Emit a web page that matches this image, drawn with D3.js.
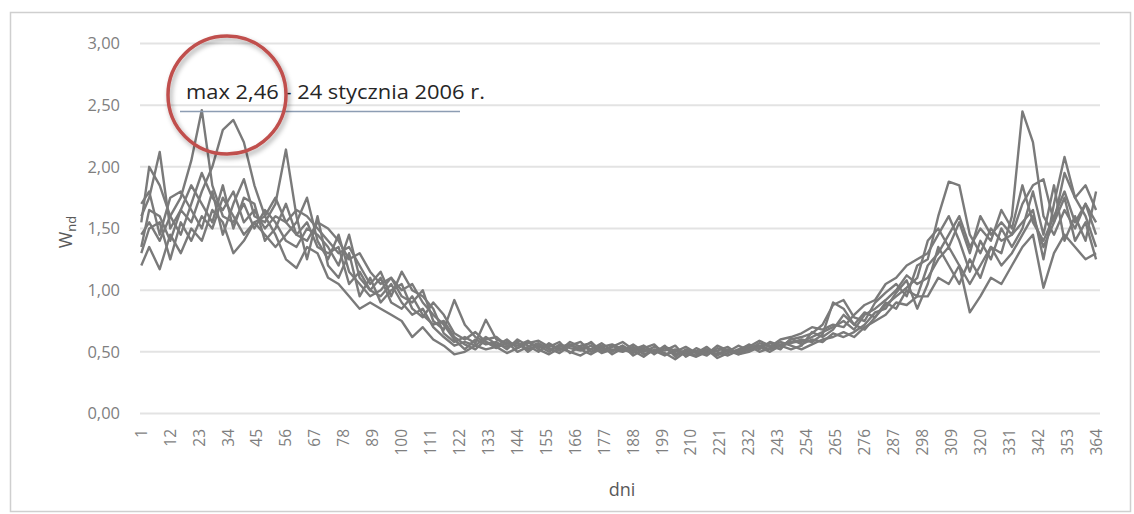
<!DOCTYPE html>
<html>
<head>
<meta charset="utf-8">
<script src="https://cdn.jsdelivr.net/npm/d3@7"></script>
<style>
  body { margin: 0; background: #fff; }
  svg { display: block; font-family: "Open Sans", sans-serif; }
</style>
</head>
<body>
<div id="chart"></div>
<script>
// chart size
const width = 1134;
const height = 514;

// days of the year used as sample points (1, 4, 8, ... 364)
const days = [1].concat(d3.range(4, 365, 4));

// axis labels
const yTicks = [0, 0.5, 1, 1.5, 2, 2.5, 3];
const xTickLabels = [1, 12, 23, 34, 45, 56, 67, 78, 89, 100, 111, 122, 133, 144, 155, 166, 177,
  188, 199, 210, 221, 232, 243, 254, 265, 276, 287, 298, 309, 320, 331, 342, 353, 364];

// W_nd values, one array per year
const s1 = [1.45,1.55,1.40,1.60,1.75,2.05,2.46,1.85,1.60,1.55,1.70,1.50,1.65,1.55,1.40,1.35,1.50,1.45,
  1.35,1.20,1.45,1.10,1.00,0.95,1.05,0.90,0.80,0.85,0.70,0.62,0.55,
  0.58,0.55,0.62,0.56,0.54,0.57,0.52,0.55,0.50,0.56,0.53,0.51,0.55,0.49,0.52,0.50,0.54,0.48,0.51,0.47,0.52,0.49,0.46,0.50,0.48,0.52,0.49,0.53,0.55,0.52,0.56,0.58,
  0.58,0.62,0.66,0.70,0.75,0.68,0.80,0.85,0.92,1.00,1.12,1.05,
  1.10,1.25,1.35,1.20,1.05,1.20,1.35,1.30,1.60,2.45,2.20,1.60,1.45,1.65,1.50,1.70,1.55];
const s2 = [1.60,1.75,2.12,1.50,1.65,1.55,1.80,2.00,2.30,2.38,2.20,1.85,1.60,1.75,1.55,1.45,1.40,1.55,
  1.50,1.40,1.25,1.30,1.15,1.05,1.10,1.00,1.05,0.90,0.80,0.72,0.60,
  0.52,0.60,0.56,0.58,0.52,0.60,0.55,0.50,0.57,0.52,0.55,0.58,0.50,0.54,0.56,0.52,0.49,0.55,0.50,0.53,0.48,0.51,0.50,0.47,0.53,0.50,0.55,0.51,0.54,0.57,0.54,0.60,
  0.62,0.65,0.72,0.88,0.92,0.78,0.75,0.90,0.98,1.05,0.95,1.20,
  1.25,1.60,1.88,1.85,1.45,1.30,1.50,1.40,1.45,1.55,1.65,1.25,1.70,2.08,1.75,1.60,1.35];
const s3 = [1.20,1.35,1.17,1.45,1.30,1.50,1.40,1.65,1.55,1.30,1.40,1.55,1.60,1.45,1.25,1.18,1.35,1.30,
  1.10,1.05,0.95,0.85,0.90,0.85,0.80,0.75,0.62,0.70,0.60,0.55,0.48,
  0.50,0.55,0.52,0.54,0.49,0.53,0.58,0.52,0.48,0.53,0.50,0.47,0.52,0.55,0.48,0.53,0.51,0.46,0.52,0.49,0.44,0.50,0.47,0.52,0.45,0.49,0.52,0.55,0.50,0.53,0.58,0.55,
  0.52,0.56,0.60,0.62,0.66,0.62,0.70,0.75,0.80,0.90,0.88,0.95,
  0.95,1.10,1.05,1.20,0.82,0.95,1.10,1.05,1.20,1.35,1.45,1.02,1.30,1.45,1.35,1.25,1.30];
const s4 = [1.55,2.00,1.85,1.60,1.45,1.70,1.95,1.75,1.65,1.80,1.55,1.65,1.50,1.60,1.55,1.65,1.60,1.50,
  1.40,1.30,1.35,1.20,1.05,1.15,0.95,1.15,1.00,0.95,0.85,0.65,0.58,
  0.62,0.57,0.76,0.60,0.57,0.55,0.59,0.53,0.56,0.51,0.58,0.54,0.52,0.57,0.51,0.55,0.50,0.53,0.56,0.48,0.50,0.54,0.49,0.52,0.50,0.47,0.51,0.56,0.52,0.58,0.55,0.57,
  0.60,0.58,0.64,0.90,0.85,0.72,0.82,0.78,0.88,0.95,1.02,1.10,
  1.40,1.50,1.35,1.55,1.30,1.60,1.45,1.55,1.45,1.70,1.85,1.90,1.55,1.95,1.75,1.85,1.65];
const s5 = [1.30,1.50,1.55,1.25,1.55,1.40,1.60,1.50,1.75,1.60,1.45,1.55,1.45,1.35,1.45,1.55,1.75,1.40,
  1.25,1.45,1.15,1.05,0.95,1.00,1.10,0.95,0.90,1.00,0.75,0.68,0.92,
  0.72,0.62,0.58,0.55,0.60,0.53,0.57,0.59,0.54,0.58,0.49,0.55,0.57,0.51,0.54,0.58,0.52,0.55,0.48,0.54,0.51,0.47,0.53,0.49,0.51,0.54,0.48,0.52,0.57,0.54,0.60,0.62,
  0.65,0.70,0.68,0.72,0.70,0.80,0.88,0.92,1.05,1.10,1.20,1.25,
  1.30,1.45,1.60,1.40,1.15,1.40,1.25,1.50,1.35,1.50,1.80,1.45,1.85,1.40,1.60,1.40,1.80];
const s6 = [1.70,1.80,1.45,1.75,1.80,1.65,1.50,1.80,1.45,1.70,1.90,1.60,1.55,1.70,2.14,1.60,1.25,1.60,
  1.20,1.10,1.30,0.95,1.10,0.90,1.00,1.05,0.85,0.78,0.90,0.80,0.65,
  0.60,0.66,0.58,0.53,0.58,0.50,0.54,0.57,0.52,0.54,0.56,0.52,0.58,0.50,0.55,0.51,0.56,0.50,0.54,0.51,0.55,0.46,0.51,0.48,0.55,0.51,0.50,0.54,0.59,0.55,0.52,0.61,
  0.56,0.60,0.58,0.65,0.62,0.66,0.72,0.82,0.85,0.98,1.08,0.85,
  1.05,1.35,1.20,1.05,1.25,1.10,1.35,1.20,1.30,1.45,1.60,1.35,1.55,1.75,1.40,1.55,1.25];
const s7 = [1.35,1.65,1.60,1.40,1.65,1.85,1.70,1.55,1.85,1.50,1.75,1.70,1.40,1.50,1.70,1.45,1.55,1.35,
  1.30,1.35,1.05,1.15,1.00,1.10,0.90,0.85,0.95,0.80,0.72,0.75,0.62,
  0.56,0.52,0.60,0.62,0.55,0.58,0.50,0.56,0.53,0.49,0.55,0.52,0.48,0.53,0.50,0.55,0.47,0.52,0.49,0.55,0.46,0.52,0.49,0.54,0.47,0.51,0.48,0.50,0.54,0.50,0.55,0.52,
  0.55,0.66,0.62,0.68,0.80,0.72,0.68,0.78,0.90,0.85,1.00,0.95,
  1.20,1.30,1.45,1.60,1.35,1.50,1.40,1.65,1.50,1.85,1.55,1.40,1.60,1.80,1.55,1.70,1.45];
const allSeries = [s1, s2, s3, s4, s5, s6, s7];

const svg = d3.select("#chart")
  .append("svg")
  .attr("width", width)
  .attr("height", height);

const defs = svg.append("defs");
defs.append("filter").attr("id", "shadow")
  .attr("x", "-20%").attr("y", "-20%").attr("width", "140%").attr("height", "140%")
  .append("feDropShadow")
  .attr("dx", 2).attr("dy", 3).attr("stdDeviation", 2.5)
  .attr("flood-color", "#000").attr("flood-opacity", 0.35);

// outer frame
svg.append("rect")
  .attr("x", 10.5).attr("y", 12.5)
  .attr("width", 1120).attr("height", 499)
  .attr("fill", "#fff")
  .attr("stroke", "#cfcfcf")
  .attr("stroke-width", 1.5);

// scales
const x = d3.scaleLinear().domain([1, 365]).range([141.3, 1098.7]);
const y = d3.scaleLinear().domain([0, 3]).range([413.5, 43.5]);

// gridlines
svg.append("g")
  .selectAll("line")
  .data(yTicks)
  .enter().append("line")
  .attr("x1", 140).attr("x2", 1100)
  .attr("y1", d => y(d)).attr("y2", d => y(d))
  .attr("stroke", "#e3e3e3")
  .attr("stroke-width", 2);

// y axis labels
svg.append("g")
  .selectAll("text")
  .data(yTicks)
  .enter().append("text")
  .attr("x", 120)
  .attr("y", d => y(d))
  .attr("dy", "0.35em")
  .attr("text-anchor", "end")
  .attr("font-size", 16.5)
  .attr("fill", "#7f7f7f")
  .text(d => d3.format(".2f")(d).replace(".", ","));

// x axis labels (rotated)
svg.append("g")
  .selectAll("text")
  .data(xTickLabels)
  .enter().append("text")
  .attr("transform", d => `translate(${x(d)},429) rotate(-90)`)
  .attr("dy", "0.35em")
  .attr("text-anchor", "end")
  .attr("font-size", 15.5)
  .attr("fill", "#7f7f7f")
  .text(d => d);

// axis titles
svg.append("text")
  .attr("x", 622).attr("y", 496)
  .attr("text-anchor", "middle")
  .attr("font-size", 18)
  .attr("fill", "#595959")
  .text("dni");

const yTitle = svg.append("text")
  .attr("transform", "translate(72,232) rotate(-90)")
  .attr("text-anchor", "middle")
  .attr("font-size", 18)
  .attr("fill", "#595959");
yTitle.append("tspan").text("W");
yTitle.append("tspan").attr("font-size", 13).attr("dy", 4).text("nd");

// series lines
const line = d3.line()
  .x((d, i) => x(days[i]))
  .y(d => y(d));

svg.append("g")
  .selectAll("path")
  .data(allSeries)
  .enter().append("path")
  .attr("d", line)
  .attr("fill", "none")
  .attr("stroke", "#7a7a7a")
  .attr("stroke-width", 2.4)
  .attr("stroke-linejoin", "round");

// annotation of the maximum
svg.append("line")
  .attr("x1", 180).attr("x2", 460)
  .attr("y1", 111.5).attr("y2", 111.5)
  .attr("stroke", "#8d9db3")
  .attr("stroke-width", 1.5);

svg.append("text")
  .attr("x", 186).attr("y", 99)
  .attr("font-size", 20.5)
  .attr("textLength", 299)
  .attr("lengthAdjust", "spacingAndGlyphs")
  .attr("fill", "#262626")
  .text("max 2,46 - 24 stycznia 2006 r.");

svg.append("circle")
  .attr("cx", 227).attr("cy", 95).attr("r", 59)
  .attr("fill", "none")
  .attr("stroke", "#c0504d")
  .attr("stroke-width", 3.5)
  .attr("filter", "url(#shadow)");
</script>
</body>
</html>
